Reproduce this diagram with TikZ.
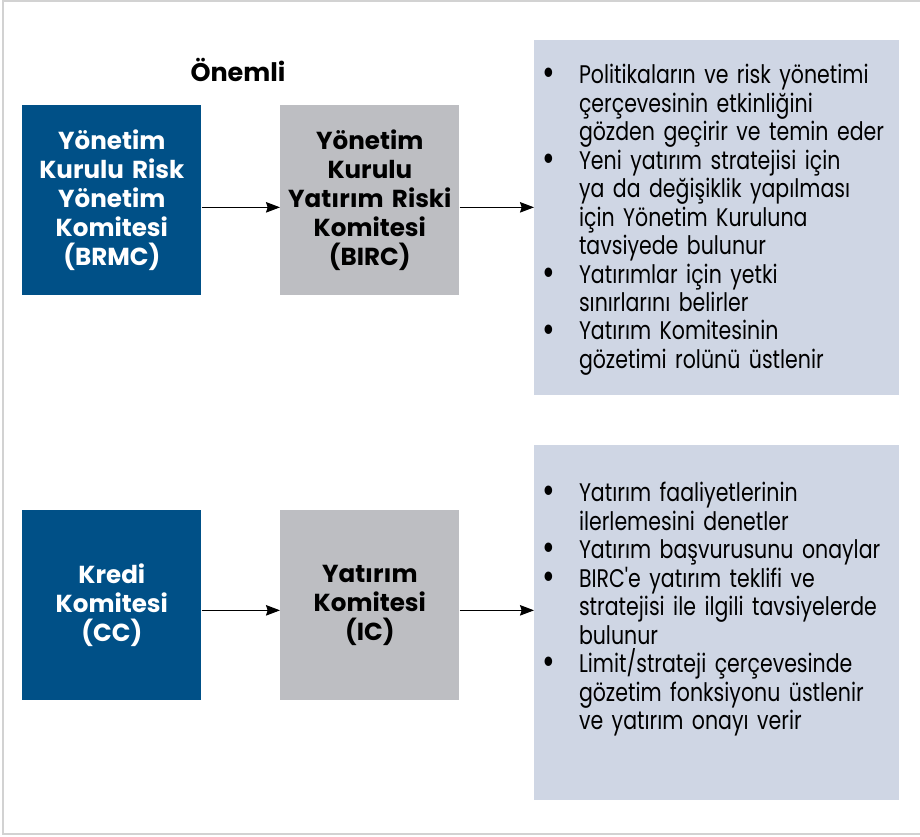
\documentclass[tikz,border=0pt]{standalone}
\usepackage{fontspec}
\setmainfont{Poppins}
\newfontfamily\dutyfont{Poppins}[FakeStretch=0.805]
\usetikzlibrary{arrows.meta,positioning}

\definecolor{boardblue}{HTML}{005087}
\definecolor{committeegray}{HTML}{BDBEC2}
\definecolor{dutypanel}{HTML}{CFD6E4}

\newcommand{\nxt}{\hfil\break}
\newcommand{\duty}[1]{\par\hangindent=22pt\hangafter=1\noindent
  \makebox[22pt][l]{\hspace{1pt}\smash{\raisebox{-1.2pt}{\scalebox{1.5}{\textbullet}}}}#1\par}

\begin{document}
\begin{tikzpicture}[x=0.02cm,y=-0.02cm,
    board/.style={rectangle,fill=boardblue,text=white,anchor=north west,
      minimum width=3.58cm,minimum height=3.8cm,inner sep=2pt,
      text width=3.4cm,align=center,font=\fontsize{14}{16.4}\selectfont\bfseries},
    committee/.style={board,fill=committeegray,text=black},
    panel/.style={rectangle,fill=dutypanel,anchor=north west,
      minimum width=7.3cm,minimum height=7.1cm,inner sep=0pt},
    duties/.style={anchor=north west,inner sep=0pt,text width=7.1cm,
      font=\fontsize{14.5}{16.2}\selectfont\dutyfont},
    link/.style={-{Stealth[length=8pt,width=6pt,inset=1pt]},line width=0.6pt}]
  % frame
  \useasboundingbox (0,0) rectangle (920,836);
  \draw[gray!35,line width=1.2pt] (920,1) -- (3,1) -- (3,834) -- (920,834);

  \node[font=\fontsize{14.5}{16}\selectfont\bfseries] (onemli) at (238,70) {Önemli};

  % upper row
  \node[board] (brmc) at (22,105) {Yönetim\\Kurulu Risk\\Yönetim\\Komitesi\\(BRMC)};
  \node[committee] (birc) at (280,105) {Yönetim\\Kurulu\\Yatırım Riski\\Komitesi\\(BIRC)};
  \node[panel] (birctasks) at (534,40) {};
  \node[duties] (birctext) at (540,55) {\raggedright\hyphenpenalty=10000
    \duty{Politikaların ve risk yönetimi\nxt çerçevesinin etkinliğini\nxt gözden geçirir ve temin eder}
    \duty{Yeni yatırım stratejisi için\nxt ya da değişiklik yapılması\nxt için Yönetim Kuruluna\nxt tavsiyede bulunur}
    \duty{Yatırımlar için yetki\nxt sınırlarını belirler}
    \duty{Yatırım Komitesinin\nxt gözetimi rolünü üstlenir}};
  \draw[link] ([yshift=-0.14cm]brmc.east) -- ([yshift=-0.14cm]birc.west);
  \draw[link] ([yshift=-0.14cm]birc.east) -- ([yshift=-0.14cm]birc.east -| birctasks.west);

  % lower row
  \node[board] (cc) at (22,510) {Kredi\\Komitesi\\(CC)};
  \node[committee] (ic) at (280,510) {Yatırım\\Komitesi\\(IC)};
  \node[panel] (ictasks) at (534,445) {};
  \node[duties] (ictext) at (540,473) {\raggedright\hyphenpenalty=10000
    \duty{Yatırım faaliyetlerinin\nxt ilerlemesini denetler}
    \duty{Yatırım başvurusunu onaylar}
    \duty{BIRC'e yatırım teklifi ve\nxt stratejisi ile ilgili tavsiyelerde\nxt bulunur}
    \duty{Limit/strateji çerçevesinde\nxt gözetim fonksiyonu üstlenir\nxt ve yatırım onayı verir}};
  \draw[link] ([yshift=-0.1cm]cc.east) -- ([yshift=-0.1cm]ic.west);
  \draw[link] ([yshift=-0.1cm]ic.east) -- ([yshift=-0.1cm]ic.east -| ictasks.west);
\end{tikzpicture}
\end{document}
